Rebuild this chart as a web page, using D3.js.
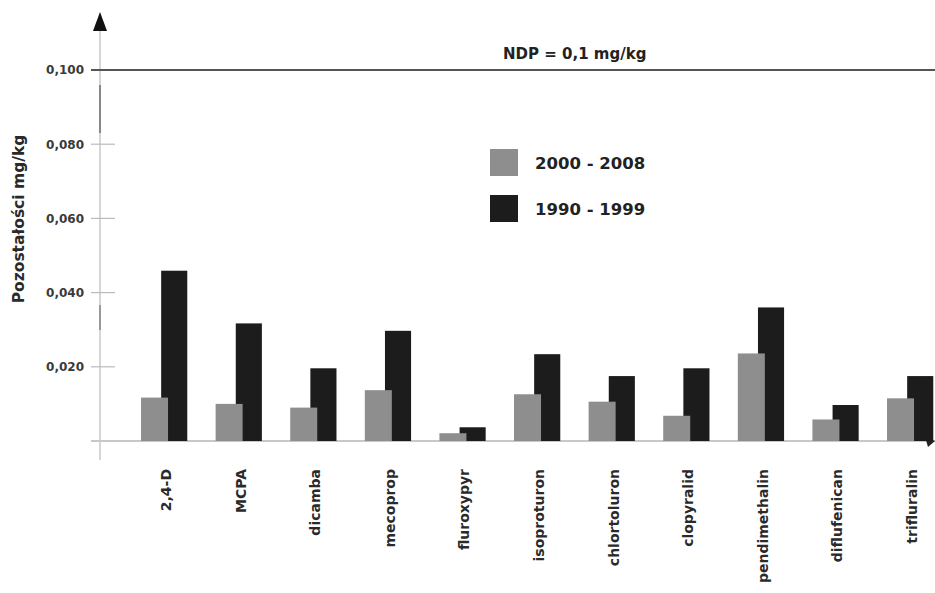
<!DOCTYPE html>
<html>
<head>
<meta charset="utf-8">
<script src="https://cdn.jsdelivr.net/npm/d3@7"></script>
<style>
  html, body { margin: 0; padding: 0; background: #fff; }
  svg text { font-family: "DejaVu Sans", "Liberation Sans", Arial, sans-serif; font-weight: bold; }
</style>
</head>
<body>
<svg id="chart" width="935" height="593"></svg>
<script>
const categories = ["2,4-D", "MCPA", "dicamba", "mecoprop", "fluroxypyr", "isoproturon",
  "chlortoluron", "clopyralid", "pendimethalin", "diflufenican", "trifluralin"];
const series2000 = [0.0117, 0.0100, 0.0090, 0.0137, 0.0021, 0.0126, 0.0106, 0.0068, 0.0236, 0.0058, 0.0115];
const series1990 = [0.0459, 0.0317, 0.0196, 0.0297, 0.0037, 0.0234, 0.0175, 0.0196, 0.0360, 0.0097, 0.0175];
const seriesNames = ["2000 - 2008", "1990 - 1999"];
const yTicks = [0.02, 0.04, 0.06, 0.08, 0.1];
const yTickLabels = ["0,020", "0,040", "0,060", "0,080", "0,100"];
const limitValue = 0.1;
const limitLabel = "NDP = 0,1 mg/kg";
const yTitle = "Pozostałości mg/kg";

const svg = d3.select("#chart");
const axisX = 100, baseY = 441;

const x = d3.scaleBand().domain(categories).range([126.7, 947.3]).padding(0);
const y = d3.scaleLinear().domain([0, 0.1]).range([baseY, 70]);
const bw = x.bandwidth();

// y axis line
svg.append("line").attr("x1", axisX).attr("x2", axisX).attr("y1", 26).attr("y2", 460)
  .attr("stroke", "#c8c8c8").attr("stroke-width", 1.5);
// darker scan segments on axis
svg.append("line").attr("x1", axisX).attr("x2", axisX).attr("y1", 85).attr("y2", 133)
  .attr("stroke", "#888").attr("stroke-width", 2);
svg.append("line").attr("x1", axisX).attr("x2", axisX).attr("y1", 305).attr("y2", 330)
  .attr("stroke", "#999").attr("stroke-width", 2);
// arrow
svg.append("path").attr("d", `M${axisX},12 L${axisX - 7},31 L${axisX + 7},31 Z`).attr("fill", "#111");

// ticks and labels
const tg = svg.append("g");
yTicks.forEach((t, i) => {
  if (t !== limitValue) {
    tg.append("line").attr("x1", 91).attr("x2", 115).attr("y1", y(t)).attr("y2", y(t))
      .attr("stroke", "#bbb").attr("stroke-width", 1.2);
  }
  tg.append("text").attr("x", 84).attr("y", y(t)).attr("dy", "0.36em")
    .attr("text-anchor", "end").attr("font-size", 12)
    .attr("fill", "#3a3a3a").text(yTickLabels[i]);
});

// baseline
svg.append("line").attr("x1", 91).attr("x2", 935).attr("y1", baseY).attr("y2", baseY)
  .attr("stroke", "#c8c8c8").attr("stroke-width", 2);
svg.append("path").attr("d", `M925,${baseY - 4} L935,${baseY} L928,${baseY + 6} Z`).attr("fill", "#222");

// bars: black behind, gray in front
svg.append("g").selectAll("rect").data(categories).join("rect")
  .attr("x", d => x(d) + bw * 0.462)
  .attr("width", bw * 0.35)
  .attr("y", (d, i) => y(series1990[i]))
  .attr("height", (d, i) => baseY - y(series1990[i]))
  .attr("fill", "#1c1c1c");
svg.append("g").selectAll("rect").data(categories).join("rect")
  .attr("x", d => x(d) + bw * 0.192)
  .attr("width", bw * 0.362)
  .attr("y", (d, i) => y(series2000[i]))
  .attr("height", (d, i) => baseY - y(series2000[i]))
  .attr("fill", "#8e8e8e");

// limit line
svg.append("line").attr("x1", 91).attr("x2", 935).attr("y1", y(limitValue)).attr("y2", y(limitValue))
  .attr("stroke", "#555").attr("stroke-width", 2);
svg.append("text").attr("x", 503).attr("y", 58.5).attr("font-size", 15)
  .attr("fill", "#222").text(limitLabel);

// x labels
svg.append("g").selectAll("text").data(categories).join("text")
  .attr("transform", d => `translate(${x(d) + bw / 2 + 2},469) rotate(-90)`)
  .attr("text-anchor", "end").attr("dy", "0.35em")
  .attr("font-size", 14).attr("fill", "#2a2a2a")
  .text(d => d);

// y title
svg.append("text").attr("transform", "translate(24,219) rotate(-90)")
  .attr("text-anchor", "middle").attr("font-size", 15.5)
  .attr("fill", "#2a2a2a").text(yTitle);

// legend
const legColors = ["#8e8e8e", "#1c1c1c"];
const lg = svg.append("g");
seriesNames.forEach((s, i) => {
  const top = 149 + i * 46;
  lg.append("rect").attr("x", 490).attr("y", top).attr("width", 28).attr("height", 27).attr("fill", legColors[i]);
  lg.append("text").attr("x", 535).attr("y", top + 20).attr("font-size", 16.5)
    .attr("fill", "#222").text(s);
});
</script>
</body>
</html>
